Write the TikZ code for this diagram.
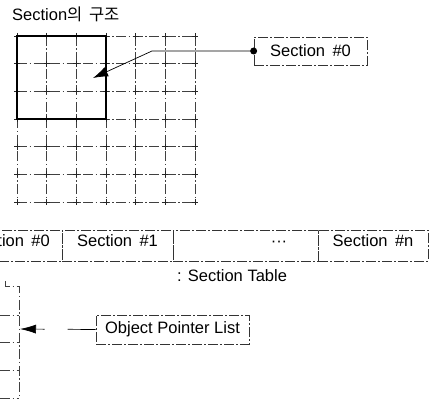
\documentclass[tikz,border=0pt]{standalone}
\usepackage{fontspec}
\setmainfont{Liberation Sans}
\newfontfamily\kr{Noto Sans CJK KR}
\usetikzlibrary{arrows.meta}
\newcommand{\sect}[1]{Section\hspace{0.45em}\##1}
\begin{document}
\begin{tikzpicture}[x=1pt,y=-1pt,
  lbl/.style={font=\fontsize{16.5}{18}\selectfont, inner sep=0pt},
  dd/.style={line width=0.7pt, draw=black!75, dash pattern=on 10pt off 2.5pt on 1.5pt off 2.5pt},
  dbox/.style={draw=black!80, line width=0.7pt, dash pattern=on 10pt off 2pt on 2pt off 2pt, inner sep=0pt, font=\fontsize{16.5}{18}\selectfont},
  cross/.style={line width=0.7pt, black!85}]
\useasboundingbox (0,0) rectangle (432,401);
\clip (0,0) rectangle (432,401);
% title
\node[lbl, anchor=base west] (title) at (12,21) {Section{\kr 의\hspace{0.4em}구조}};
% grid
\foreach \x in {17,46.7,76.3,106,135.7,165.3,195}
  \draw[dd] (\x,36) -- (\x,202);
\foreach \y in {36,63.7,91.3,119,146.7,174.3,202}
  \draw[dd] (17,\y) -- (195,\y);
\foreach \x in {17,46.7,76.3,106,135.7,165.3,195}
  \foreach \y in {36,63.7,91.3,119,146.7,174.3,202}
    \draw[cross] (\x-3,\y) -- (\x+3,\y) (\x,\y-3) -- (\x,\y+3);
\draw[line width=2.6pt] (17,36) rectangle (106,119);
% Section #0 box
\node[dbox, minimum width=113pt, minimum height=28pt] (s0) at (310.5,51) {\sect{0}};
\coordinate (bend) at (152,51);
\coordinate (tip) at (93,78);
\draw[line width=0.7pt, -{Latex[length=15pt,width=10pt]}] (s0.west) -- (bend) -- (tip);
\fill (s0.west) circle (3.5);
% section table
\node[dbox, minimum width=111pt, minimum height=31pt] (t0) at (6.5,245.5) {};
\node[lbl, anchor=base east] (t0l) at (50,247) {\sect{0}};
\node[dbox, minimum width=111pt, minimum height=31pt] (t1) at (117.5,245.5) {};
\node[lbl, anchor=base] (t1l) at (117.5,247) {\sect{1}};
\node[dbox, minimum width=145pt, minimum height=31pt] (t2) at (245.5,245.5) {};
\node[lbl, anchor=base] (t2l) at (279,247) {···};
\node[dbox, minimum width=110pt, minimum height=31pt] (t3) at (373,245.5) {};
\node[lbl, anchor=base] (t3l) at (373,247) {\sect{n}};
\node[lbl, anchor=base west] (tl) at (177,282) {: Section Table};
% left column (object pointer list)
\draw[dd] (5,281) -- (5,286) -- (19,286) -- (19,398);
\foreach \y in {315,342,370,398}
  \draw[dd] (0,\y) -- (19,\y);
\coordinate (lc) at (20,329);
\node[dbox, minimum width=153pt, minimum height=29pt] (opl) at (172.5,329.5) {Object Pointer List};
\draw[line width=0.7pt, dash pattern=on 28pt off 23pt on 60pt, -{Latex[length=16pt,width=9pt]}] (opl.west) -- (lc);
\end{tikzpicture}
\end{document}
